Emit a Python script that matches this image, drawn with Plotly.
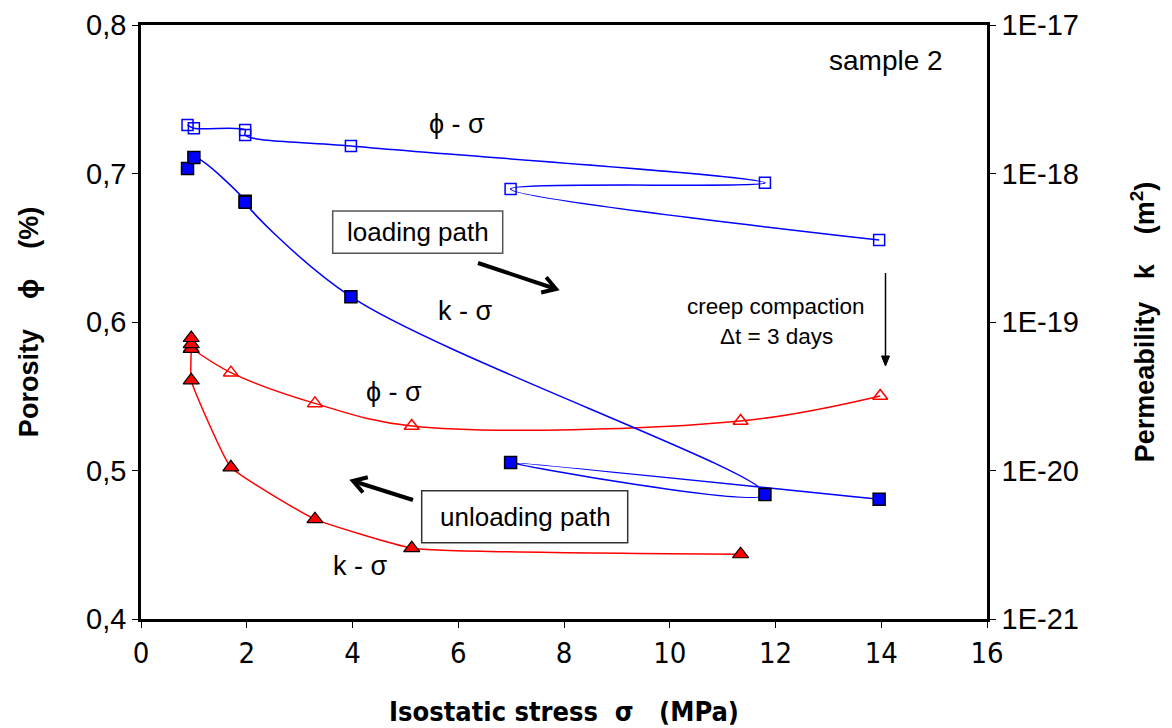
import math
import plotly.graph_objects as go

# ---------------- data ----------------
# loading path (blue)
sigma_load = [0.88, 1.0, 1.97, 1.97, 3.97, 11.80, 6.99, 13.96]
phi_load = [0.7327, 0.7305, 0.7293, 0.7259, 0.7185, 0.6937, 0.6896, 0.6552]
k_load = [1.08e-18, 1.28e-18, 6.5e-19, 6.4e-19, 1.48e-19, 6.9e-21, 1.13e-20, 6.4e-21]

# unloading path (red)
sigma_unload_phi = [13.98, 11.34, 5.12, 3.29, 1.70, 0.95]
phi_unload = [0.5502, 0.5333, 0.5300, 0.5452, 0.5659, 0.5825]
sigma_unload_k = [11.34, 5.12, 3.29, 1.70, 0.95, 0.95, 0.95, 0.95]
k_unload = [2.73e-21, 3.0e-21, 4.7e-21, 1.05e-20, 4.05e-20, 6.6e-20, 7.1e-20, 7.8e-20]

x_ticks = [0, 2, 4, 6, 8, 10, 12, 14, 16]
phi_ticks = [0.4, 0.5, 0.6, 0.7, 0.8]
phi_ticktext = ["0,4", "0,5", "0,6", "0,7", "0,8"]
k_ticks = [1e-21, 1e-20, 1e-19, 1e-18, 1e-17]
k_ticktext = ["1E-21", "1E-20", "1E-19", "1E-18", "1E-17"]

# ---------------- layout helpers (pixel -> data for annotation placement) -------------
L, R, T, B = 141, 987, 25, 619
def px2x(px):
    return (px - L) / (R - L) * 16
def py2y(py):
    return 0.8 - (py - T) / (B - T) * 0.4

BLUE = "#0000FF"
RED = "#FF0000"
FONT = "Liberation Sans, Arial, sans-serif"
NARROW = "Liberation Sans Narrow, Arial Narrow, DejaVu Sans Condensed, sans-serif"

fig = go.Figure()

fig.add_trace(go.Scatter(
    x=sigma_load, y=phi_load, mode="lines+markers",
    line=dict(color=BLUE, width=1.5, shape="spline", smoothing=1.0),
    marker=dict(symbol="square-open", size=11, color=BLUE, line=dict(width=1.5, color=BLUE)),
    yaxis="y", showlegend=False))

fig.add_trace(go.Scatter(
    x=sigma_load, y=k_load, mode="lines+markers",
    line=dict(color=BLUE, width=1.5, shape="spline", smoothing=1.0),
    marker=dict(symbol="square", size=12, color=BLUE, line=dict(width=1.5, color="black")),
    yaxis="y2", showlegend=False))

fig.add_trace(go.Scatter(
    x=sigma_unload_phi, y=phi_unload, mode="lines+markers",
    line=dict(color=RED, width=1.5, shape="spline", smoothing=1.0),
    marker=dict(symbol="triangle-up-open", size=13, color=RED, line=dict(width=1.5, color=RED)),
    yaxis="y", showlegend=False))

fig.add_trace(go.Scatter(
    x=sigma_unload_k, y=k_unload, mode="lines+markers",
    line=dict(color=RED, width=1.5, shape="spline", smoothing=0.35),
    marker=dict(symbol="triangle-up", size=14, color=RED, line=dict(width=1.2, color="black")),
    yaxis="y2", showlegend=False))

annotations = []
def txt(text, px, py, size=26, family=FONT):
    annotations.append(dict(text=text, x=px2x(px), y=py2y(py), xref="x", yref="y",
                            showarrow=False, font=dict(size=size, color="black", family=family),
                            xanchor="center", yanchor="middle"))

txt("sample 2", 886, 60, 28)
txt("ϕ - σ", 457, 124, 27)
txt("k - σ", 465, 311, 27)
txt("ϕ - σ", 394, 392, 27)
txt("k - σ", 360, 566, 27)
txt("loading path", 418, 232, 26)
txt("unloading path", 525, 517, 26)
txt("creep compaction", 776, 306, 22.5)
txt("Δt = 3 days", 776, 336, 22.5)

shapes = [
    dict(type="rect", xref="x", yref="y", x0=px2x(332.7), x1=px2x(502.7), y0=py2y(211), y1=py2y(253.3),
         line=dict(color="#555555", width=1.5), fillcolor="rgba(0,0,0,0)"),
    dict(type="rect", xref="x", yref="y", x0=px2x(421.7), x1=px2x(627.7), y0=py2y(490.7), y1=py2y(542.7),
         line=dict(color="#333333", width=1.5), fillcolor="rgba(0,0,0,0)"),
]

def P(px, py):
    return f"{px2x(px):.5f},{py2y(py):.6f}"

def arrow(x0, y0, x1, y1, width, head_len, head_half, filled):
    d = math.hypot(x1 - x0, y1 - y0)
    ux, uy = (x1 - x0) / d, (y1 - y0) / d
    nx, ny = -uy, ux
    bx, by = x1 - ux * head_len, y1 - uy * head_len
    lx, ly = bx + nx * head_half, by + ny * head_half
    rx, ry = bx - nx * head_half, by - ny * head_half
    if filled:
        shapes.append(dict(type="line", xref="x", yref="y", x0=px2x(x0), y0=py2y(y0),
                           x1=px2x(bx), y1=py2y(by), line=dict(color="black", width=width)))
        shapes.append(dict(type="path", xref="x", yref="y",
                           path=f"M{P(lx, ly)} L{P(x1, y1)} L{P(rx, ry)} Z",
                           fillcolor="black", line=dict(color="black", width=1)))
    else:
        ex, ey = x1 - ux * width * 0.6, y1 - uy * width * 0.6
        shapes.append(dict(type="line", xref="x", yref="y", x0=px2x(x0), y0=py2y(y0),
                           x1=px2x(ex), y1=py2y(ey), line=dict(color="black", width=width)))
        shapes.append(dict(type="path", xref="x", yref="y",
                           path=f"M{P(lx, ly)} L{P(x1, y1)} L{P(rx, ry)}",
                           line=dict(color="black", width=width)))

arrow(478, 263, 556, 289, 4, 13, 8, False)
arrow(413, 500, 353, 481, 4, 13, 8, False)
arrow(885.5, 273, 885.5, 366, 1.5, 10, 4, True)

fig.update_layout(
    width=1172, height=728,
    margin=dict(l=L, r=1172 - R, t=T, b=728 - B, autoexpand=False),
    paper_bgcolor="white", plot_bgcolor="white",
    font=dict(family=FONT, color="black"),
    annotations=annotations, shapes=shapes,
    xaxis=dict(range=[0, 16], tickvals=x_ticks, ticks="outside", ticklen=6, tickwidth=1,
               tickcolor="black", showline=True, linewidth=2.5, linecolor="black", mirror=True,
               showgrid=False, zeroline=False, automargin=False,
               tickfont=dict(size=29, family=NARROW),
               title=dict(text="<b>Isostatic stress  σ   (MPa)</b>", font=dict(size=27, family=NARROW),
                          standoff=34)),
    yaxis=dict(range=[0.4, 0.8], tickvals=phi_ticks, ticktext=phi_ticktext, ticks="outside",
               ticklen=6, tickwidth=1, tickcolor="black", showline=True, linewidth=2.5,
               linecolor="black", mirror=True, showgrid=False, zeroline=False, automargin=False,
               tickfont=dict(size=29),
               title=dict(text="<b>Porosity    ϕ    (%)</b>", font=dict(size=27), standoff=40)),
    yaxis2=dict(type="log", range=[-21, -17], tickvals=k_ticks, ticktext=k_ticktext,
                overlaying="y", side="right", ticks="outside", ticklen=6, tickwidth=1,
                tickcolor="black", showline=True, linewidth=2.5, linecolor="black",
                showgrid=False, zeroline=False, automargin=False, tickfont=dict(size=29),
                title=dict(text="<b>Permeability   k    (m<sup>2</sup>)</b>", font=dict(size=27),
                           standoff=58)),
)

fig.write_html("out.html")
